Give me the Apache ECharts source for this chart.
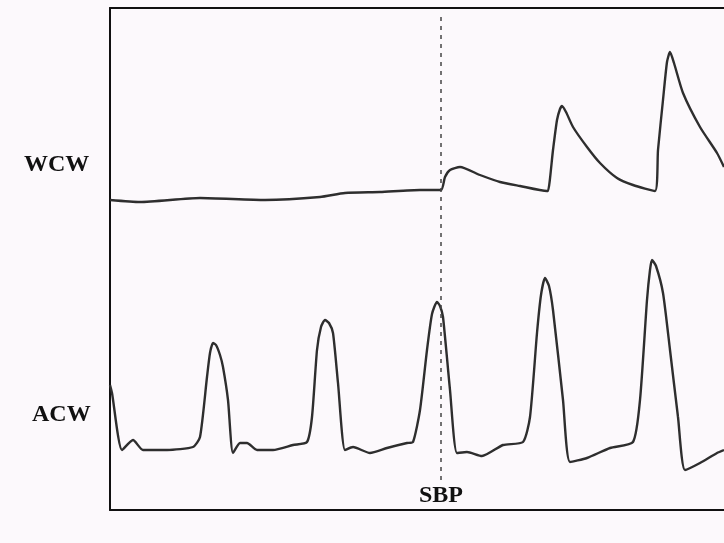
<html>
<head>
    <meta charset="utf-8">
    <title>WCW / ACW</title>
    <script src="https://cdn.jsdelivr.net/npm/echarts@6/dist/echarts.min.js"></script>
    <style>
        html, body { margin: 0; padding: 0; width: 724px; height: 543px; background: #fcf9fc; }
    </style>
</head>
<body>
    <div id="main" style="width: 724px; height: 543px;"></div>
    <script type="text/javascript">
        // 采样点（横轴：样本序号，纵轴：幅值）
        var wcw_data = [
            [0, 310], [30, 308], [90, 312], [155, 310], [210, 313], [235, 317], [270, 318],
            [310, 320], [331, 320], [335, 333], [340, 340], [350, 343], [370, 335], [390, 328],
            [410, 324], [437, 319], [438, 319], [443, 360], [447, 390], [450, 401], [452, 404],
            [456, 398], [463, 383], [477, 363], [490, 347], [507, 332], [523, 325], [545, 319],
            [548, 360], [553, 410], [557, 448], [560, 458], [564, 447], [573, 417], [590, 383],
            [607, 357], [614, 343]
        ];
        var acw_data = [
            [0, 125], [2, 117], [12, 60], [23, 70], [33, 60], [57, 60], [83, 63], [90, 73],
            [97, 133], [100, 157], [103, 167], [106, 165], [110, 155], [113, 143], [118, 110],
            [123, 57], [130, 67], [137, 67], [147, 60], [163, 60], [183, 65], [197, 68],
            [202, 93], [207, 160], [211, 183], [215, 190], [219, 187], [223, 177], [228, 127],
            [235, 60], [243, 63], [260, 57], [277, 62], [297, 67], [303, 68], [310, 100],
            [317, 160], [322, 196], [327, 208], [330, 204], [333, 193], [340, 120], [347, 57],
            [357, 58], [372, 54], [393, 65], [413, 68], [420, 93], [427, 177], [431, 215],
            [435, 232], [439, 224], [443, 200], [453, 110], [460, 48], [477, 52], [500, 62],
            [523, 68], [530, 110], [537, 210], [540, 240], [542, 250], [546, 244], [553, 217],
            [560, 160], [568, 93], [575, 40], [590, 47], [607, 57], [614, 60]
        ];
        var sbp_x = 331;
        var labels = ['WCW', 'ACW', 'SBP'];

        var myChart = echarts.init(document.getElementById('main'));
        var serif = '"Liberation Serif", "DejaVu Serif", serif';

        // 只画左、上、下三条边框
        var frameLine = { show: true, onZero: false, lineStyle: { color: '#111', width: 2 } };

        option = {
            backgroundColor: '#fcf9fc',
            animation: false,
            grid: {
                left: 110,
                right: 0,
                top: 8,
                bottom: 33
            },
            xAxis: [
                {
                    type: 'value', min: 0, max: 614, position: 'bottom',
                    axisLine: frameLine, axisTick: { show: false },
                    axisLabel: { show: false }, splitLine: { show: false }
                },
                {
                    type: 'value', min: 0, max: 614, position: 'top',
                    axisLine: frameLine, axisTick: { show: false },
                    axisLabel: { show: false }, splitLine: { show: false }
                }
            ],
            yAxis: {
                type: 'value', min: 0, max: 502, position: 'left',
                axisLine: frameLine, axisTick: { show: false },
                axisLabel: { show: false }, splitLine: { show: false }
            },
            graphic: [
                { type: 'text', left: 24, top: 153, style: { text: labels[0], font: 'bold 24px ' + serif, fill: '#111' } },
                { type: 'text', left: 32, top: 403, style: { text: labels[1], font: 'bold 24px ' + serif, fill: '#111' } }
            ],
            series: [
                {
                    name: labels[0],
                    type: 'line',
                    data: wcw_data,
                    showSymbol: false,
                    smooth: 0.2,
                    lineStyle: { color: '#2e2e2e', width: 2.4 }
                },
                {
                    name: labels[1],
                    type: 'line',
                    data: acw_data,
                    showSymbol: false,
                    smooth: 0.2,
                    lineStyle: { color: '#2e2e2e', width: 2.4 },
                    markLine: {
                        silent: true,
                        symbol: 'none',
                        lineStyle: { color: '#444', width: 1.5, type: [4, 5] },
                        label: {
                            show: true,
                            position: 'start',
                            distance: 4,
                            formatter: labels[2],
                            color: '#111',
                            fontFamily: serif,
                            fontWeight: 'bold',
                            fontSize: 24
                        },
                        data: [[{ coord: [sbp_x, 30] }, { coord: [sbp_x, 497] }]]
                    }
                }
            ]
        };
        myChart.setOption(option);
    </script>
</body>
</html>
